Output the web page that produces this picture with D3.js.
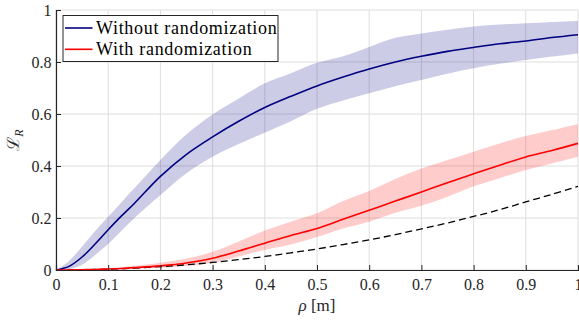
<!DOCTYPE html>
<html>
<head>
<meta charset="utf-8">
<script src="https://cdn.jsdelivr.net/npm/d3@7.9.0/dist/d3.min.js"></script>
<style>
  body { margin: 0; background: #fff; }
  svg { display: block; }
</style>
</head>
<body>
<svg id="chart"></svg>
<script>
// rho [m] sample positions
const rho = [0, 0.025, 0.05, 0.075, 0.1, 0.125, 0.15, 0.2, 0.25, 0.3, 0.35, 0.4, 0.45, 0.5,
  0.55, 0.6, 0.65, 0.7, 0.75, 0.8, 0.85, 0.9, 0.95, 1.0];

// Without randomization: mean and band
const noRandMean = [0, 0.014, 0.05, 0.10, 0.155, 0.207, 0.256, 0.36, 0.445, 0.512, 0.572, 0.625, 0.668, 0.708,
  0.742, 0.773, 0.80, 0.822, 0.841, 0.856, 0.870, 0.881, 0.894, 0.905];
const noRandUpper = [0, 0.035, 0.09, 0.15, 0.205, 0.26, 0.314, 0.423, 0.522, 0.598, 0.66, 0.718, 0.757, 0.797,
  0.822, 0.858, 0.893, 0.91, 0.924, 0.937, 0.944, 0.949, 0.954, 0.958];
const noRandLower = [0, 0.003, 0.02, 0.058, 0.10, 0.15, 0.199, 0.288, 0.372, 0.436, 0.485, 0.528, 0.572, 0.62,
  0.652, 0.68, 0.707, 0.731, 0.755, 0.776, 0.793, 0.808, 0.821, 0.833];

// With randomization: mean and band
const randMean = [0, 0, 0.001, 0.002, 0.004, 0.006, 0.009, 0.016, 0.027, 0.045, 0.073, 0.103, 0.133, 0.16,
  0.195, 0.23, 0.265, 0.30, 0.336, 0.37, 0.403, 0.435, 0.46, 0.487];
const randUpper = [0, 0.001, 0.002, 0.004, 0.007, 0.011, 0.016, 0.028, 0.044, 0.07, 0.11, 0.152, 0.186, 0.218,
  0.265, 0.304, 0.35, 0.39, 0.423, 0.455, 0.487, 0.515, 0.538, 0.562];
const randLower = [0, 0, 0, 0.001, 0.002, 0.003, 0.005, 0.009, 0.015, 0.028, 0.052, 0.077, 0.098, 0.127,
  0.16, 0.186, 0.22, 0.247, 0.282, 0.322, 0.353, 0.385, 0.41, 0.436];

// dashed reference curve
const reference = [0, 0.0002, 0.001, 0.002, 0.003, 0.005, 0.007, 0.013, 0.02, 0.029, 0.04, 0.052, 0.066, 0.081,
  0.098, 0.116, 0.136, 0.158, 0.181, 0.206, 0.232, 0.262, 0.291, 0.322];

const xTicks = [0, 0.1, 0.2, 0.3, 0.4, 0.5, 0.6, 0.7, 0.8, 0.9, 1];
const yTicks = [0, 0.2, 0.4, 0.6, 0.8, 1];
const legendLabels = ["Without randomization", "With randomization"];

const width = 579, height = 320;
const margin = {top: 10, right: 1, bottom: 50, left: 56};
const serifFont = "Liberation Serif";

const svg = d3.select("#chart").attr("width", width).attr("height", height);

const x = d3.scaleLinear().domain([0, 1]).range([margin.left, width - margin.right]);
const y = d3.scaleLinear().domain([0, 1]).range([height - margin.bottom, margin.top]);

// grid
svg.append("g").selectAll("line").data(xTicks).enter().append("line")
  .attr("x1", d => x(d)).attr("x2", d => x(d))
  .attr("y1", y(0)).attr("y2", y(1))
  .attr("stroke", "#dedede").attr("stroke-width", 1);
svg.append("g").selectAll("line").data(yTicks).enter().append("line")
  .attr("x1", x(0)).attr("x2", x(1))
  .attr("y1", d => y(d)).attr("y2", d => y(d))
  .attr("stroke", "#dedede").attr("stroke-width", 1);

const pts = (arr) => rho.map((r, i) => [r, arr[i]]);
const band = (lo, hi) => rho.map((r, i) => ({r, lo: lo[i], hi: hi[i]}));

const area = d3.area()
  .x(d => x(d.r)).y0(d => y(d.lo)).y1(d => y(d.hi))
  .curve(d3.curveCatmullRom.alpha(0.5));
const line = d3.line()
  .x(d => x(d[0])).y(d => y(d[1]))
  .curve(d3.curveCatmullRom.alpha(0.5));

svg.append("path").datum(band(noRandLower, noRandUpper))
  .attr("d", area).attr("fill", "#000080").attr("fill-opacity", 0.2);
svg.append("path").datum(band(randLower, randUpper))
  .attr("d", area).attr("fill", "#ff0000").attr("fill-opacity", 0.2);

svg.append("path").datum(pts(reference))
  .attr("d", line).attr("fill", "none")
  .attr("stroke", "#000").attr("stroke-width", 1.3)
  .attr("stroke-dasharray", "7,4");
svg.append("path").datum(pts(noRandMean))
  .attr("d", line).attr("fill", "none")
  .attr("stroke", "#000080").attr("stroke-width", 1.6);
svg.append("path").datum(pts(randMean))
  .attr("d", line).attr("fill", "none")
  .attr("stroke", "#ff0000").attr("stroke-width", 1.6);

// axes (ticks point inwards)
const fmt = d => d === 0 || d === 1 ? d3.format("d")(d) : d3.format(".1f")(d);
const xAxis = d3.axisBottom(x).tickValues(xTicks).tickSize(-5).tickPadding(9).tickFormat(fmt);
const yAxis = d3.axisLeft(y).tickValues(yTicks).tickSize(-5).tickPadding(9).tickFormat(fmt);

const gx = svg.append("g").attr("transform", `translate(0,${y(0)})`).call(xAxis);
const gy = svg.append("g").attr("transform", `translate(${x(0)},0)`).call(yAxis);
[gx, gy].forEach(g => {
  g.select(".domain").attr("stroke", "#262626").attr("stroke-width", 1.2);
  g.selectAll(".tick line").attr("stroke", "#262626");
  g.selectAll(".tick text").attr("fill", "#262626")
    .attr("font-family", serifFont).attr("font-size", 16);
});
gy.selectAll(".tick text").attr("x", -4.5);
gx.selectAll(".tick text").attr("y", 9);

// axis labels
const xl = svg.append("text")
  .attr("x", x(0.5)).attr("y", 311)
  .attr("text-anchor", "middle")
  .attr("font-family", serifFont).attr("font-size", 17).attr("fill", "#262626");
xl.append("tspan").attr("font-style", "italic").text("ρ");
xl.append("tspan").text(" [m]");

const yl = svg.append("text")
  .attr("transform", `translate(19,${(y(0) + y(1)) / 2}) rotate(-90)`)
  .attr("text-anchor", "middle")
  .attr("font-family", serifFont).attr("font-size", 17).attr("fill", "#262626");
yl.append("tspan").text("ℒ");
yl.append("tspan").attr("dy", 4).attr("font-size", 12).attr("font-style", "italic").text("R");

// legend
const legend = svg.append("g");
legend.append("rect")
  .attr("x", 63).attr("y", 15.5).attr("width", 215).attr("height", 46)
  .attr("fill", "#fff").attr("stroke", "#262626").attr("stroke-width", 1);
const colors = ["#000080", "#ff0000"];
legendLabels.forEach((lab, i) => {
  const ly = 28 + i * 21.3;
  legend.append("line")
    .attr("x1", 65).attr("x2", 92.5).attr("y1", ly).attr("y2", ly)
    .attr("stroke", colors[i]).attr("stroke-width", 1.6);
  legend.append("text")
    .attr("x", 96).attr("y", ly + 5.5)
    .attr("font-family", serifFont).attr("font-size", 18)
    .attr("letter-spacing", 0.7).attr("fill", "#000")
    .text(lab);
});
</script>
</body>
</html>
